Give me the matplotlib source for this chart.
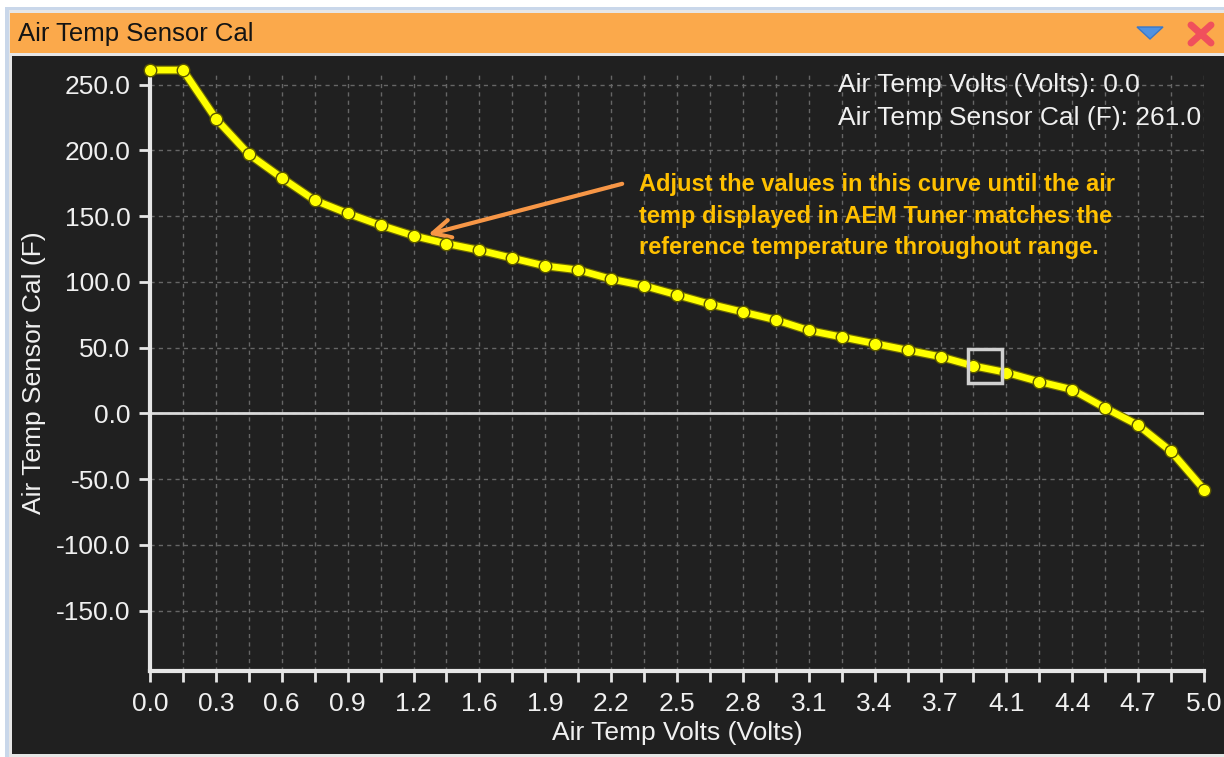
import numpy as np
import matplotlib
matplotlib.use("Agg")
import matplotlib.pyplot as plt
from matplotlib.patches import Rectangle, Polygon

plt.rcParams["font.family"] = ["Liberation Sans", "DejaVu Sans"]

# calibration table: sensor volts -> temperature (F)
volts = [0.0, 0.15625, 0.3125, 0.46875, 0.625, 0.78125, 0.9375, 1.09375,
         1.25, 1.40625, 1.5625, 1.71875, 1.875, 2.03125, 2.1875, 2.34375,
         2.5, 2.65625, 2.8125, 2.96875, 3.125, 3.28125, 3.4375, 3.59375,
         3.75, 3.90625, 4.0625, 4.21875, 4.375, 4.53125, 4.6875, 4.84375, 5.0]
temps = [261, 261, 224, 197, 179, 162, 152, 143, 135, 129, 124, 118, 112,
         109, 102, 97, 90, 83, 77, 71, 63, 58, 53, 48, 43, 36, 31, 24, 18,
         4, -9, -29, -58]
xtick_labels = ["0.0", "0.3", "0.6", "0.9", "1.2", "1.6", "1.9", "2.2", "2.5",
                "2.8", "3.1", "3.4", "3.7", "4.1", "4.4", "4.7", "5.0"]
yticks = [-150, -100, -50, 0, 50, 100, 150, 200, 250]
cursor_v, cursor_t = 3.96, 36
arrow_head = (1.32, 136)
arrow_tail = (2.24, 174.5)
note = ("Adjust the values in this curve until the air\n"
        "temp displayed in AEM Tuner matches the\n"
        "reference temperature throughout range.")

W, H = 1224, 757
fig = plt.figure(figsize=(W / 100, H / 100), dpi=100, facecolor="white")

# window chrome in pixel coordinates
bg = fig.add_axes([0, 0, 1, 1])
bg.set_xlim(0, W)
bg.set_ylim(H, 0)
bg.axis("off")
bg.add_patch(Rectangle((5, 7), W - 5, H - 7, fc="#c9d7ea", ec="none"))
bg.add_patch(Rectangle((9, 10), W - 9, H - 10, fc="#e6e6e6", ec="none"))
bg.add_patch(Rectangle((10, 13), W - 10, 40, fc="#fba94b", ec="none"))
bg.add_patch(Rectangle((12, 56), W - 12, H - 59, fc="#202020", ec="none"))
bg.text(18, 34, "Air Temp Sensor Cal", fontsize=18.5, color="#141414",
        va="center", ha="left")
bg.add_patch(Polygon([(1137, 27), (1163, 27), (1150, 39)], closed=True,
                     fc="#5192e0", ec="#3a78c8", lw=1))
bg.plot([1191, 1211], [25, 43], color="#f0505c", lw=5, solid_capstyle="round")
bg.plot([1191, 1211], [43, 25], color="#f0505c", lw=5, solid_capstyle="round")

# plot area
ax = fig.add_axes([150 / W, (H - 671) / H, (1204 - 150) / W, (671 - 74) / H])
ax.set_facecolor("#202020")
ax.set_xlim(0, 5.0)
ax.set_ylim(-196, 258)

ax.set_xticks(volts[::2])
ax.set_xticklabels(xtick_labels)
ax.set_xticks(volts[1::2], minor=True)
ax.set_yticks(yticks)
ax.set_yticklabels(["%.1f" % v for v in yticks])

for s in ["top", "right"]:
    ax.spines[s].set_visible(False)
for s in ["left", "bottom"]:
    ax.spines[s].set_color("#e6e6e6")
    ax.spines[s].set_linewidth(3)

ax.tick_params(axis="both", which="both", colors="#e6e6e6", width=2,
               length=8, labelsize=19, labelcolor="#f0f0f0")
ax.tick_params(axis="x", which="both", pad=7)
ax.tick_params(axis="y", pad=6)

ax.grid(axis="x", which="both", color="#666666", lw=1, ls=(0, (3, 3)))
ax.grid(axis="y", which="major", color="#666666", lw=1, ls=(0, (3, 3)))
ax.axhline(0, color="#dadada", lw=2, zorder=2)

ax.plot(volts, temps, color="#6e6a00", lw=6.5, zorder=3, clip_on=False)
ax.plot(volts, temps, color="#ffff00", lw=4.8, marker="o", ms=9,
        mfc="#ffff00", mec="#5a5600", mew=1, zorder=4, clip_on=False)
ax.plot([cursor_v], [cursor_t], marker="s", ms=25, mfc="none",
        mec="#d0d0d0", mew=2.5, zorder=5)

ax.set_xlabel("Air Temp Volts (Volts)", fontsize=19, color="#f0f0f0",
              labelpad=4)
ax.set_ylabel("Air Temp Sensor Cal (F)", fontsize=19, color="#f0f0f0",
              labelpad=7)

ax.annotate("", xy=arrow_head, xytext=arrow_tail,
            arrowprops=dict(arrowstyle="->", color="#f79646", lw=3,
                            mutation_scale=32, shrinkA=0, shrinkB=0))
ax.text(2.32, 150, note, fontsize=17, fontweight="bold", color="#ffc000",
        ha="left", va="center", linespacing=1.45)

fig.text(838 / W, 1 - 85 / H, "Air Temp Volts (Volts): 0.0", fontsize=19,
         color="#f0f0f0", va="center", ha="left")
fig.text(838 / W, 1 - 118 / H, "Air Temp Sensor Cal (F): 261.0", fontsize=19,
         color="#f0f0f0", va="center", ha="left")

fig.savefig("out.png", dpi=100, facecolor=fig.get_facecolor())
